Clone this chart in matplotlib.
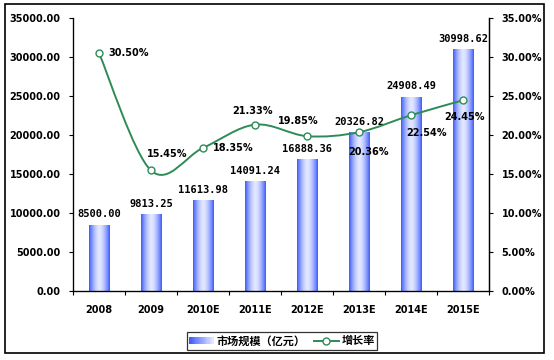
"""
Market size bars (left axis) with growth rate line (right axis), 2008-2015E.
"""
import matplotlib
matplotlib.use("Agg")
import matplotlib.pyplot as plt
import numpy as np
from matplotlib.colors import LinearSegmentedColormap
from matplotlib.legend_handler import HandlerBase
from matplotlib.lines import Line2D
from matplotlib.patches import PathPatch, Rectangle
from matplotlib.path import Path

# Chart data.
YEARS = ["2008", "2009", "2010E", "2011E", "2012E", "2013E", "2014E", "2015E"]
MARKET_SIZE = [8500.00, 9813.25, 11613.98, 14091.24, 16888.36, 20326.82, 24908.49, 30998.62]
GROWTH_RATE = [30.50, 15.45, 18.35, 21.33, 19.85, 20.36, 22.54, 24.45]
SIZE_LABELS = ["8500.00", "9813.25", "11613.98", "14091.24",
               "16888.36", "20326.82", "24908.49", "30998.62"]
RATE_LABELS = ["30.50%", "15.45%", "18.35%", "21.33%", "19.85%", "20.36%", "22.54%", "24.45%"]
LEGEND_LABELS = ["市场规模（亿元）", "增长率"]

# Label offsets (points) and alignment for each growth label.
RATE_OFFSETS = [((6.5, 0), "left"), ((11.5, 12), "center"), ((7, 0), "left"),
                ((-2, 10), "center"), ((-6.5, 11), "center"), ((6.5, -14), "center"),
                ((11, -13), "center"), ((0.7, -12), "center")]

EDGE_BLUE = "#3d5cff"
CENTER_BLUE = "#e2e8ff"
GREEN = "#2e8b57"
TICK_FONT = dict(family="DejaVu Sans", weight="bold", size=7)

bar_cmap = LinearSegmentedColormap.from_list("bar", [EDGE_BLUE, CENTER_BLUE])


class GradientHandler(HandlerBase):
    """Draws the bar legend key as a left-to-right blue gradient."""

    def create_artists(self, legend, orig_handle, xdescent, ydescent,
                       width, height, fontsize, trans):
        steps = 20
        artists = []
        for i in range(steps):
            color = bar_cmap(i / (steps - 1))
            artists.append(Rectangle((-xdescent + width * i / steps, -ydescent + height * 0.1),
                                     width / steps + 0.3, height * 0.8,
                                     facecolor=color, edgecolor="none", transform=trans))
        return artists


def smooth_path(xs, ys):
    """Catmull-Rom style Bezier path through the points (like Excel's smoothed line)."""
    pts = np.column_stack([xs, ys]).astype(float)
    padded = np.vstack([pts[0], pts, pts[-1]])
    verts = [pts[0]]
    codes = [Path.MOVETO]
    for i in range(len(pts) - 1):
        p0, p1, p2, p3 = padded[i], padded[i + 1], padded[i + 2], padded[i + 3]
        verts += [p1 + (p2 - p0) / 6, p2 - (p3 - p1) / 6, p2]
        codes += [Path.CURVE4] * 3
    return Path(verts, codes)


fig = plt.figure(figsize=(5.54, 3.6), dpi=100)
ax = fig.add_axes([0.1318, 0.1917, 0.751, 0.7583])
x = np.arange(len(YEARS))

bars = ax.bar(x, MARKET_SIZE, width=0.4, facecolor="none", edgecolor="none", zorder=2)
grad = 1 - np.abs(np.linspace(-1, 1, 64)) ** 1.6
for patch in bars:
    x0, w, h = patch.get_x(), patch.get_width(), patch.get_height()
    im = ax.imshow(grad[np.newaxis, :], cmap=bar_cmap, extent=[x0, x0 + w, 0, h],
                   aspect="auto", interpolation="bilinear", zorder=2)
    im.set_clip_path(patch)

for xi, val, lab in zip(x, MARKET_SIZE, SIZE_LABELS):
    ax.annotate(lab, (xi, val), xytext=(0, 7.5), textcoords="offset points",
                ha="center", va="center", family="DejaVu Sans Mono", weight="bold", size=7.5)

ax.set_xlim(-0.5, len(YEARS) - 0.5)
ax.set_ylim(0, 35000)
ax.set_yticks(np.arange(0, 35001, 5000))
ax.set_yticklabels([f"{v:.2f}" for v in np.arange(0, 35001, 5000)], fontdict=TICK_FONT)
ax.set_xticks(x)
ax.set_xticklabels(YEARS, fontdict=TICK_FONT)
ax.set_xticks(np.arange(-0.5, len(YEARS)), minor=True)
ax.tick_params(axis="x", which="major", length=0, pad=10)
ax.tick_params(axis="x", which="minor", length=3, width=0.8, direction="out")
ax.tick_params(axis="y", length=3, width=0.8, pad=6)
ax.spines["top"].set_visible(False)
for side in ("left", "bottom", "right"):
    ax.spines[side].set_linewidth(0.9)

ax2 = ax.twinx()
ax2.set_ylim(0, 35)
ax2.set_yticks(np.arange(0, 36, 5))
ax2.set_yticklabels([f"{v:.2f}%" for v in np.arange(0, 36, 5)], fontdict=TICK_FONT)
ax2.tick_params(axis="y", length=3, width=0.8, pad=6)
ax2.spines["top"].set_visible(False)
ax2.spines["right"].set_linewidth(0.9)

ax2.add_patch(PathPatch(smooth_path(x, GROWTH_RATE), facecolor="none",
                        edgecolor=GREEN, linewidth=1.4, zorder=3))
ax2.plot(x, GROWTH_RATE, linestyle="none", marker="o", markersize=5,
         markerfacecolor="white", markeredgecolor=GREEN, markeredgewidth=1, zorder=4)
for xi, val, lab, (off, ha) in zip(x, GROWTH_RATE, RATE_LABELS, RATE_OFFSETS):
    ax2.annotate(lab, (xi, val), xytext=off, textcoords="offset points",
                 ha=ha, va="center", zorder=5, **TICK_FONT)

bar_key = Rectangle((0, 0), 1, 1)
line_key = Line2D([], [], color=GREEN, linewidth=1.4, marker="o", markersize=5,
                  markerfacecolor="white", markeredgecolor=GREEN)
leg = fig.legend([bar_key, line_key], LEGEND_LABELS, loc="center",
                 bbox_to_anchor=(0.509, 0.053), ncol=2, frameon=True, fancybox=False,
                 handler_map={Rectangle: GradientHandler()},
                 prop=dict(family=["Noto Sans CJK SC", "DejaVu Sans"], weight="bold", size=8),
                 handlelength=2.2, handletextpad=0.25, columnspacing=0.8,
                 borderpad=0.2, borderaxespad=0)
leg.get_frame().set_edgecolor("black")
leg.get_frame().set_linewidth(0.9)

# Outer border around the whole chart.
fig.patches.append(Rectangle((0.009, 0.0194), 0.973, 0.9696, transform=fig.transFigure,
                             facecolor="none", edgecolor="black", linewidth=1.2))

fig.savefig("out.png", dpi=100)
plt.close(fig)
